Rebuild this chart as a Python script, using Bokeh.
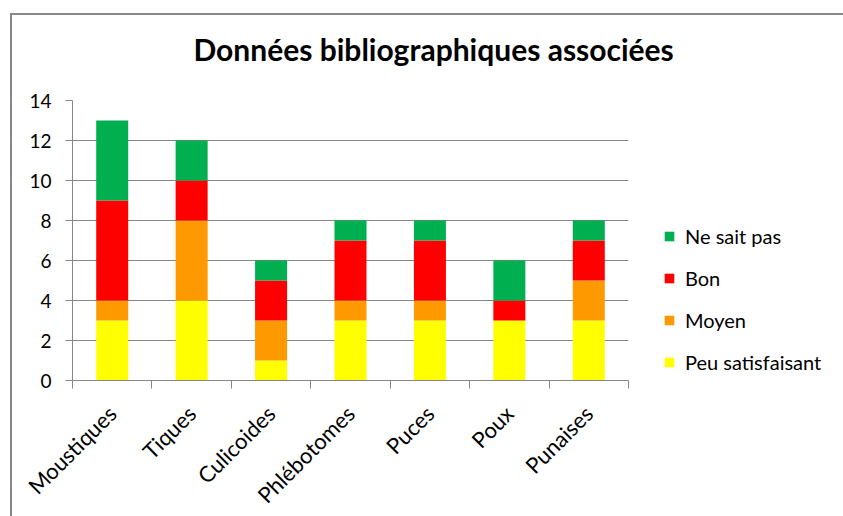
from bokeh.plotting import figure
from bokeh.models import (Legend, LegendItem, LinearAxis, FixedTicker,
                          CategoricalAxis, Title)
from bokeh.embed import file_html
from bokeh.resources import INLINE
import math

categories = ["Moustiques", "Tiques", "Culicoides", "Phlébotomes", "Puces", "Poux", "Punaises"]
series = ["Peu satisfaisant", "Moyen", "Bon", "Ne sait pas"]
peu_satisfaisant = [3, 4, 1, 3, 3, 3, 3]
moyen = [1, 4, 2, 1, 1, 0, 2]
bon = [5, 2, 2, 3, 3, 1, 2]
ne_sait_pas = [4, 2, 1, 1, 1, 2, 1]
colors = ["#FFFF00", "#FF9900", "#FF0000", "#00B050"]
y_ticks = [0, 2, 4, 6, 8, 10, 12, 14]
title_text = "Données bibliographiques associées"

FONT = "Lato"

data = {"cat": categories, series[0]: peu_satisfaisant, series[1]: moyen,
        series[2]: bon, series[3]: ne_sait_pas}

p = figure(x_range=categories, y_range=(0, 14), frame_width=556, frame_height=280,
           output_backend="svg", toolbar_location=None, x_axis_location=None,
           min_border_left=60, min_border_top=85, min_border_right=204,
           min_border_bottom=130)
p.styles = {"border-top": "2px solid #888888", "border-left": "2px solid #888888",
            "margin-left": "10px", "margin-top": "13px"}
p.outline_line_color = None
p.background_fill_color = "white"
p.border_fill_color = "white"

renderers = p.vbar_stack(series, x="cat", width=0.403, color=colors, line_color=None, source=data)

# invisible spacer between frame and title
p.add_layout(Title(text=" ", text_font_size="1px", standoff=26), "above")

# title
p.title.text = title_text
p.title.text_font = FONT
p.title.text_font_style = "bold"
p.title.text_font_size = "30px"
p.title.text_color = "#000000"
p.title.align = "left"
p.title.offset = 121
p.title.standoff = 10

# y axis
yax = p.yaxis[0]
yax.ticker = FixedTicker(ticks=y_ticks)
yax.axis_line_color = "#868686"
yax.major_tick_line_color = "#868686"
yax.major_tick_out = 7
yax.major_tick_in = 0
yax.minor_tick_line_color = None
yax.major_label_text_font = FONT
yax.major_label_text_font_size = "19px"
yax.major_label_text_color = "#000000"
yax.major_label_standoff = 14

p.ygrid.ticker = FixedTicker(ticks=y_ticks)
p.ygrid.grid_line_color = "#868686"
p.xgrid.grid_line_color = None

# x axis: tick marks at category boundaries
bounds = list(range(len(categories) + 1))
tick_axis = LinearAxis(ticker=FixedTicker(ticks=bounds))
tick_axis.axis_line_color = "#868686"
tick_axis.major_tick_line_color = "#868686"
tick_axis.major_tick_out = 8
tick_axis.major_tick_in = 0
tick_axis.minor_tick_line_color = None
tick_axis.major_label_overrides = {b: "" for b in bounds}
tick_axis.major_label_text_font_size = "1px"
tick_axis.major_label_standoff = 0
p.add_layout(tick_axis, "below")

cat_axis = CategoricalAxis()
cat_axis.axis_line_color = None
cat_axis.major_tick_line_color = None
cat_axis.minor_tick_line_color = None
cat_axis.major_label_orientation = math.pi / 4
cat_axis.major_label_text_font = FONT
cat_axis.major_label_text_font_size = "22px"
cat_axis.major_label_text_color = "#000000"
cat_axis.major_label_standoff = 15
p.add_layout(cat_axis, "below")

# legend, right of the frame
items = [LegendItem(label=s, renderers=[r]) for s, r in zip(series, renderers)][::-1]
legend = Legend(items=items, location=(35, 0))
legend.border_line_color = None
legend.background_fill_alpha = 0
legend.padding = 0
legend.margin = 0
legend.spacing = 6
legend.glyph_width = 12
legend.glyph_height = 12
legend.label_height = 36
legend.label_standoff = 10
legend.label_text_font = FONT
legend.label_text_font_size = "20px"
legend.label_text_color = "#000000"
p.add_layout(legend, "right")

open("out.html", "w").write(file_html(p, INLINE))
